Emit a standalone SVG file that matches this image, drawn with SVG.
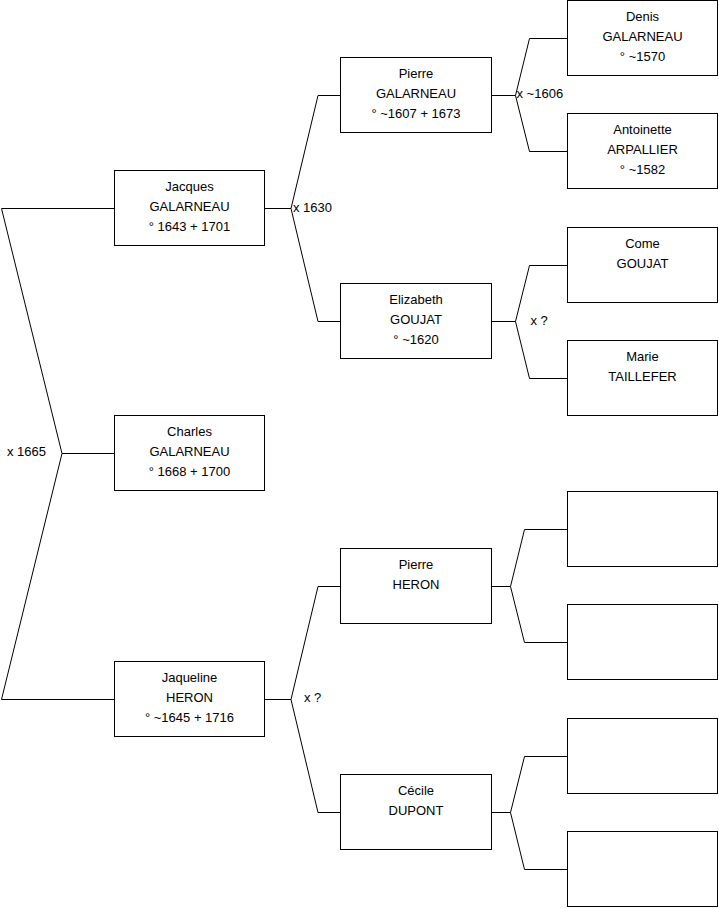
<svg xmlns="http://www.w3.org/2000/svg" width="719" height="908" viewBox="0 0 719 908">
<style>
rect{fill:#fff;stroke:#000;stroke-width:1}
text{font-family:"Liberation Sans",Arial,sans-serif;font-size:13px;fill:#000}
.n text{text-anchor:middle}
#connectors path{fill:none;stroke:#000;stroke-width:1}
</style>
<rect x="0" y="0" width="719" height="908" style="fill:#fff;stroke:none"/>
<g id="connectors">
<path d="M114.5 208.5H1.5L62 453.5L1.5 699.5H114.5M62 453.5H114.5"/>
<path d="M264.5 208.5H291L318 95.5H340.5M291 208.5L318 321.5H340.5"/>
<path d="M491.5 95.5H515.5L529.5 38.5H567.5M515.5 95.5L529.5 151.5H567.5"/>
<path d="M491.5 321.5H515.5L529.5 265.5H567.5M515.5 321.5L529.5 378.5H567.5"/>
<path d="M264.5 699.5H291L318 586.5H340.5M291 699.5L318 812.5H340.5"/>
<path d="M491.5 586.5H510.5L524.5 529.5H567.5M510.5 586.5L524.5 642.5H567.5"/>
<path d="M491.5 812.5H510.5L524.5 756.5H567.5M510.5 812.5L524.5 869.5H567.5"/>
<text x="7" y="455.5">x 1665</text>
<text x="293" y="211.5">x 1630</text>
<text x="516.5" y="97.5">x ~1606</text>
<text x="530.5" y="324.5">x ?</text>
<text x="304" y="702">x ?</text>
</g>
<g id="jacques" class="n"><rect x="114.5" y="170.5" width="150" height="75"/><text x="189.5" y="191">Jacques</text><text x="189.5" y="211">GALARNEAU</text><text x="189.5" y="231">° 1643 + 1701</text></g>
<g id="charles" class="n"><rect x="114.5" y="415.5" width="150" height="75"/><text x="189.5" y="436">Charles</text><text x="189.5" y="456">GALARNEAU</text><text x="189.5" y="476">° 1668 + 1700</text></g>
<g id="jaqueline" class="n"><rect x="114.5" y="661.5" width="150" height="75"/><text x="189.5" y="682">Jaqueline</text><text x="189.5" y="702">HERON</text><text x="189.5" y="722">° ~1645 + 1716</text></g>
<g id="pierre-galarneau" class="n"><rect x="340.5" y="57.5" width="151" height="75"/><text x="416" y="78">Pierre</text><text x="416" y="98">GALARNEAU</text><text x="416" y="118">° ~1607 + 1673</text></g>
<g id="elizabeth" class="n"><rect x="340.5" y="283.5" width="151" height="75"/><text x="416" y="304">Elizabeth</text><text x="416" y="324">GOUJAT</text><text x="416" y="344">° ~1620</text></g>
<g id="pierre-heron" class="n"><rect x="340.5" y="548.5" width="151" height="75"/><text x="416" y="569">Pierre</text><text x="416" y="589">HERON</text></g>
<g id="cecile" class="n"><rect x="340.5" y="774.5" width="151" height="75"/><text x="416" y="795">Cécile</text><text x="416" y="815">DUPONT</text></g>
<g id="denis" class="n"><rect x="567.5" y="0.5" width="150" height="75"/><text x="642.5" y="21">Denis</text><text x="642.5" y="41">GALARNEAU</text><text x="642.5" y="61">° ~1570</text></g>
<g id="antoinette" class="n"><rect x="567.5" y="113.5" width="150" height="75"/><text x="642.5" y="134">Antoinette</text><text x="642.5" y="154">ARPALLIER</text><text x="642.5" y="174">° ~1582</text></g>
<g id="come" class="n"><rect x="567.5" y="227.5" width="150" height="75"/><text x="642.5" y="248">Come</text><text x="642.5" y="268">GOUJAT</text></g>
<g id="marie" class="n"><rect x="567.5" y="340.5" width="150" height="75"/><text x="642.5" y="361">Marie</text><text x="642.5" y="381">TAILLEFER</text></g>
<g id="blank1" class="n"><rect x="567.5" y="491.5" width="150" height="75"/></g>
<g id="blank2" class="n"><rect x="567.5" y="604.5" width="150" height="75"/></g>
<g id="blank3" class="n"><rect x="567.5" y="718.5" width="150" height="75"/></g>
<g id="blank4" class="n"><rect x="567.5" y="831.5" width="150" height="75"/></g>
</svg>
